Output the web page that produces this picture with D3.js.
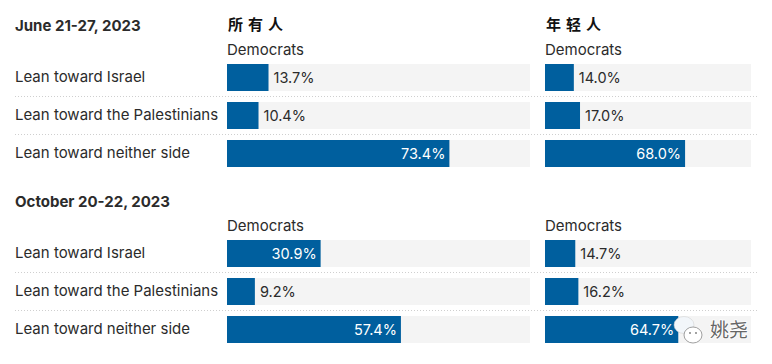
<!DOCTYPE html>
<html>
<head>
<meta charset="utf-8">
<script src="https://cdnjs.cloudflare.com/ajax/libs/d3/7.8.5/d3.min.js"></script>
<style>
    html, body { margin: 0; padding: 0; background: #fff; }
    svg { display: block; }
    text { font-family: Inter, "Noto Sans", sans-serif; fill: #2b2b2b; }
    .cjk { font-family: "Noto Sans CJK SC", sans-serif; font-weight: 700; fill: #111; }
</style>
</head>
<body>
<div id="chart"></div>
<script>
const categories = ["Lean toward Israel", "Lean toward the Palestinians", "Lean toward neither side"];
const periods = ["June 21-27, 2023", "October 20-22, 2023"];
const groups = ["所有人", "年轻人"];
const partyLabel = "Democrats";
const allPeople = [[13.7, 10.4, 73.4], [30.9, 9.2, 57.4]];
const youngPeople = [[14.0, 17.0, 68.0], [14.7, 16.2, 64.7]];

var width = 772;
var height = 364;
var barColor = "#005f9e";
var trackColor = "#f4f4f4";

var svg = d3.select("#chart").append("svg")
    .attr("width", width)
    .attr("height", height);

var xAll = d3.scaleLinear().domain([0, 100]).range([227, 530]);
var xYoung = d3.scaleLinear().domain([0, 100]).range([545, 751]);
var columns = [
    {x: xAll, values: allPeople, title: groups[0]},
    {x: xYoung, values: youngPeople, title: groups[1]}
];

// One row band per period, the second block sits 176px lower
var blockTops = [64, 240];
var y = d3.scaleBand().domain(d3.range(categories.length)).paddingInner(11 / 38).paddingOuter(0);

periods.forEach(function (period, p) {
    var top = blockTops[p];
    y.range([top, top + 103]);

    var block = svg.append("g");

    block.append("text")
        .attr("x", 15)
        .attr("y", top - 33)
        .attr("font-size", "15px")
        .attr("font-weight", 700)
        .text(period);

    // Dotted separators between the rows
    d3.range(1, categories.length).forEach(function (i) {
        block.append("line")
            .attr("x1", 15)
            .attr("x2", 759)
            .attr("y1", y(i) - 5.5)
            .attr("y2", y(i) - 5.5)
            .attr("stroke", "#cfcfcf")
            .attr("stroke-dasharray", "1,2");
    });

    categories.forEach(function (category, i) {
        block.append("text")
            .attr("x", 15)
            .attr("y", y(i) + 18)
            .attr("font-size", "15px")
            .text(category);
    });

    columns.forEach(function (col) {
        if (p === 0) {
            block.append("text")
                .attr("class", "cjk")
                .attr("x", col.x.range()[0] + 1)
                .attr("y", top - 34)
                .attr("font-size", "15px")
                .attr("letter-spacing", "5px")
                .text(col.title);
        }

        block.append("text")
            .attr("x", col.x.range()[0])
            .attr("y", top - 9)
            .attr("font-size", "15px")
            .text(partyLabel);

        var rows = block.selectAll(null)
            .data(col.values[p])
            .enter().append("g");

        rows.append("rect")
            .attr("x", col.x(0))
            .attr("y", function (d, i) { return y(i); })
            .attr("width", col.x(100) - col.x(0))
            .attr("height", y.bandwidth())
            .attr("fill", trackColor);

        rows.append("rect")
            .attr("x", col.x(0))
            .attr("y", function (d, i) { return y(i); })
            .attr("width", function (d) { return col.x(d) - col.x(0); })
            .attr("height", y.bandwidth())
            .attr("fill", barColor);

        // Long bars carry the label inside, in white
        rows.append("text")
            .attr("x", function (d) { return d > 25 ? col.x(d) - 4 : col.x(d) + 5; })
            .attr("y", function (d, i) { return y(i) + 19; })
            .attr("text-anchor", function (d) { return d > 25 ? "end" : "start"; })
            .attr("font-size", "14.5px")
            .style("fill", function (d) { return d > 25 ? "#fff" : "#2b2b2b"; })
            .text(function (d) { return d.toFixed(1) + "%"; });
    });
});

// Watermark in the bottom right corner
var mark = svg.append("g");
mark.append("ellipse").attr("cx", 684).attr("cy", 325).attr("rx", 10).attr("ry", 8.5)
    .attr("fill", "#f2f6fa").attr("stroke", "#ccc").attr("stroke-width", 0.5);
mark.append("ellipse").attr("cx", 693).attr("cy", 335).attr("rx", 9).attr("ry", 8)
    .attr("fill", "#fff").attr("stroke", "#888").attr("stroke-width", 0.8);
mark.selectAll(null).data([[690, 333], [696, 333]]).enter().append("circle")
    .attr("cx", function (d) { return d[0]; })
    .attr("cy", function (d) { return d[1]; })
    .attr("r", 0.9)
    .attr("fill", "#777");
mark.append("text")
    .attr("x", 710)
    .attr("y", 337)
    .attr("font-size", "19px")
    .style("font-family", "'Noto Sans CJK SC', sans-serif")
    .style("fill", "#666")
    .style("paint-order", "stroke")
    .style("stroke", "#fff")
    .style("stroke-width", "1.5px")
    .text("姚尧");
</script>
</body>
</html>
